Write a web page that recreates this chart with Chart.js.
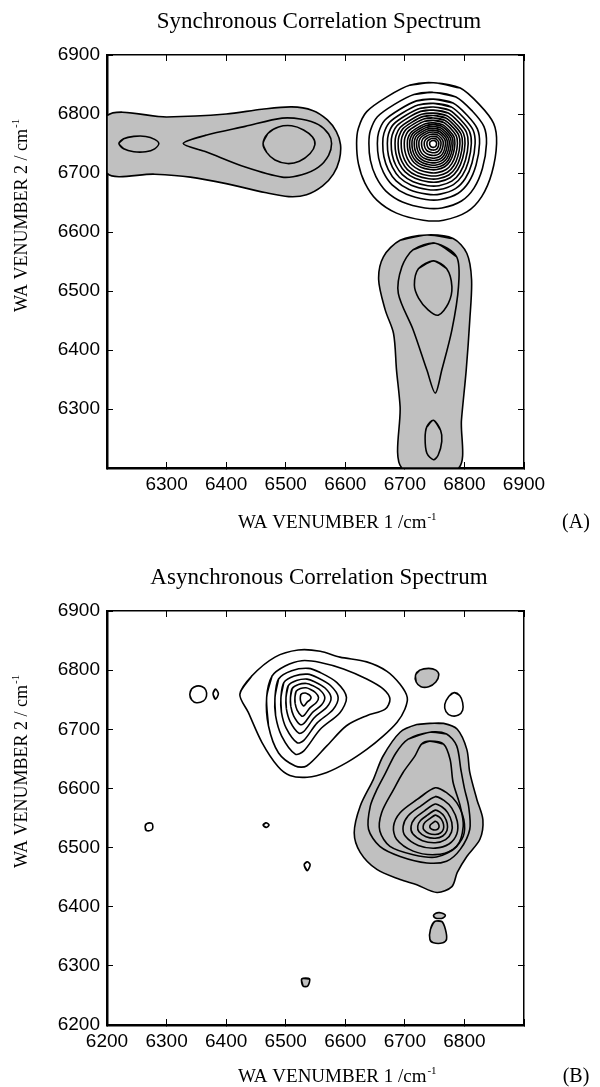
<!DOCTYPE html>
<html>
<head>
<meta charset="utf-8">
<script src="https://cdn.jsdelivr.net/npm/chart.js@4"></script>
<style>
  body { margin: 0; background: #fff; }
  .panel { position: absolute; left: 0; width: 600px; }
  #boxA { top: 0; height: 556px; }
  #boxB { top: 556px; height: 531px; }
</style>
</head>
<body>
<div class="panel" id="boxA"><canvas id="syncChart"></canvas></div>
<div class="panel" id="boxB"><canvas id="asyncChart"></canvas></div>
<script>
// tick labels
const syncXTicks = [6300, 6400, 6500, 6600, 6700, 6800, 6900];
const syncYTicks = [6300, 6400, 6500, 6600, 6700, 6800, 6900];
const asyncXTicks = [6200, 6300, 6400, 6500, 6600, 6700, 6800];
const asyncYTicks = [6200, 6300, 6400, 6500, 6600, 6700, 6800, 6900];

// synchronous: gray (negative) contours, [wavenumber1, wavenumber2]
const syncBandOuter = [[6200,6797],[6300,6795],[6400,6800],[6460,6808],[6510,6812],[6545,6806],[6570,6790],[6585,6770],[6592,6748],[6590,6722],[6580,6698],[6562,6678],[6535,6663],[6505,6660],[6465,6667],[6400,6682],[6340,6693],[6280,6698],[6200,6700],[6200,6797]];
const syncBandMid = [[6328,6750],[6366,6764],[6432,6779],[6494,6793],[6527,6791],[6555,6782],[6572,6766],[6577,6750],[6572,6730],[6555,6710],[6527,6697],[6494,6693],[6432,6710],[6366,6736],[6328,6750]];
const syncBandCore = [[6462,6750],[6470,6767],[6488,6778],[6510,6780],[6530,6773],[6545,6761],[6549,6748],[6541,6733],[6523,6720],[6503,6716],[6482,6722],[6468,6735],[6462,6750]];
const syncBandSpot = [[6220,6750],[6228,6758],[6245,6762],[6265,6762],[6280,6757],[6287,6750],[6280,6741],[6265,6736],[6245,6736],[6228,6741],[6220,6750]];
const syncColOuter = [[6737,6595],[6781,6589],[6804,6564],[6812,6519],[6809,6451],[6803,6366],[6795,6281],[6790,6200],[6695,6200],[6692,6304],[6686,6366],[6681,6428],[6667,6468],[6656,6519],[6664,6558],[6692,6586],[6737,6595]];
const syncColMid = [[6751,6581],[6787,6558],[6790,6507],[6779,6434],[6762,6366],[6751,6327],[6737,6366],[6714,6434],[6689,6496],[6695,6541],[6714,6570],[6751,6581]];
const syncColCore = [[6748,6551],[6770,6538],[6779,6507],[6773,6479],[6756,6459],[6739,6468],[6723,6488],[6716,6510],[6723,6538],[6748,6551]];
const syncColSpot = [[6748,6281],[6760,6264],[6762,6245],[6756,6222],[6748,6214],[6737,6225],[6734,6250],[6737,6270],[6748,6281]];

// synchronous: auto peak (white), outer contour + relative size of each ring toward the peak
const syncPeak = [6748, 6750];
const syncPeakOuter = [[6748,6853],[6709,6849],[6670,6829],[6636,6804],[6622,6776],[6619,6750],[6622,6716],[6633,6683],[6653,6654],[6686,6632],[6731,6620],[6765,6620],[6804,6634],[6829,6660],[6846,6700],[6854,6750],[6849,6784],[6826,6815],[6793,6844],[6748,6853]];
const syncPeakRings = [1, 0.84, 0.73, 0.66, 0.6, 0.55, 0.5, 0.46, 0.42, 0.38, 0.34, 0.31, 0.28, 0.25, 0.22, 0.19, 0.155, 0.12, 0.085, 0.05];

// asynchronous: white (positive) cross peak
const asyncPosOuter = [[6423,6759],[6443,6790],[6482,6822],[6521,6834],[6558,6832],[6591,6822],[6636,6814],[6670,6798],[6692,6776],[6704,6754],[6700,6734],[6687,6712],[6663,6688],[6636,6666],[6603,6644],[6569,6627],[6536,6619],[6507,6622],[6487,6637],[6460,6678],[6437,6729],[6423,6759]];
const asyncPosMid = [[6468,6754],[6477,6790],[6499,6807],[6527,6816],[6558,6813],[6597,6802],[6636,6785],[6664,6768],[6675,6751],[6667,6734],[6636,6723],[6602,6706],[6569,6672],[6535,6638],[6516,6638],[6488,6660],[6471,6706],[6468,6754]];
const asyncPosPeak = [6532, 6754];
const asyncPosInner = [[6482,6754],[6488,6785],[6510,6799],[6538,6803],[6558,6796],[6586,6779],[6602,6754],[6591,6728],[6558,6700],[6530,6663],[6516,6658],[6493,6689],[6483,6723],[6482,6754]];
const asyncPosRings = [1, 0.8, 0.63, 0.48, 0.33, 0.15];

// asynchronous: gray (negative) cross peak
const asyncNegOuter = [[6742,6710],[6765,6710],[6788,6700],[6804,6666],[6809,6627],[6821,6581],[6831,6547],[6826,6514],[6804,6485],[6788,6458],[6779,6434],[6754,6424],[6720,6437],[6692,6446],[6653,6463],[6625,6492],[6615,6525],[6625,6570],[6647,6615],[6663,6654],[6692,6695],[6720,6708],[6742,6710]];
const asyncNegMid = [[6742,6695],[6770,6692],[6787,6672],[6794,6632],[6800,6600],[6807,6570],[6809,6531],[6793,6497],[6770,6477],[6737,6474],[6692,6485],[6658,6502],[6639,6531],[6642,6570],[6654,6600],[6667,6625],[6685,6660],[6705,6683],[6742,6695]];
const asyncNegLobe = [[6742,6680],[6765,6675],[6776,6649],[6781,6610],[6793,6570],[6798,6536],[6787,6502],[6753,6484],[6714,6488],[6675,6502],[6658,6528],[6661,6559],[6681,6598],[6697,6627],[6717,6655],[6728,6675],[6742,6680]];
const asyncNegPeak = [6751, 6536];
const asyncNegInner = [[6751,6601],[6720,6581],[6692,6559],[6681,6536],[6686,6514],[6714,6494],[6751,6488],[6781,6497],[6798,6519],[6799,6547],[6787,6576],[6770,6593],[6751,6601]];
const asyncNegRings = [1, 0.77, 0.58, 0.42, 0.29, 0.13];

// asynchronous: small islands
const asyncGraySpots = [
  [[6718,6792],[6725,6800],[6740,6803],[6752,6800],[6757,6792],[6752,6780],[6740,6772],[6727,6772],[6719,6780],[6718,6792]],
  [[6748,6385],[6752,6389],[6758,6390],[6765,6388],[6768,6385],[6764,6381],[6758,6380],[6751,6381],[6748,6385]],
  [[6750,6375],[6762,6375],[6768,6362],[6770,6345],[6764,6339],[6748,6339],[6742,6345],[6743,6362],[6750,6375]],
  [[6527,6278],[6540,6278],[6537,6266],[6529,6266],[6527,6278]]
];
const asyncWhiteSpots = [
  [[6339,6759],[6342,6768],[6350,6773],[6360,6772],[6366,6766],[6367,6756],[6362,6748],[6350,6745],[6342,6750],[6339,6759]],
  [[6378,6760],[6382,6768],[6387,6760],[6382,6751],[6378,6760]],
  [[6783,6762],[6792,6757],[6797,6745],[6797,6732],[6790,6724],[6778,6723],[6769,6730],[6767,6742],[6774,6756],[6783,6762]],
  [[6264,6535],[6266,6540],[6275,6541],[6277,6535],[6275,6530],[6266,6529],[6264,6535]],
  [[6462,6538],[6467,6542],[6472,6538],[6467,6534],[6462,6538]],
  [[6531,6471],[6536,6476],[6541,6471],[6536,6461],[6531,6471]]
];

const GRAY = '#c0c0c0';
const SERIF = '"Liberation Serif", "Times New Roman", serif';

function contour(points, filled) {
  // closed loop: repeat a neighbour at each end so the curve has no kink where it closes
  let pts = points;
  const n = points.length;
  if (n > 3 && points[0][0] === points[n - 1][0] && points[0][1] === points[n - 1][1]) {
    pts = [points[n - 2]].concat(points, [points[1]]);
  }
  return {
    data: pts.map(p => ({ x: p[0], y: p[1] })),
    showLine: true,
    pointRadius: 0,
    pointHoverRadius: 0,
    borderColor: '#000',
    borderWidth: 1.6,
    backgroundColor: filled ? GRAY : 'rgba(0,0,0,0)',
    fill: filled ? 'shape' : false,
    tension: 0.3,
    order: filled ? 2 : 1
  };
}

// rings between an outer contour and its peak
function rings(shape, peak, sizes) {
  return sizes.map(s => contour(shape.map(p => [peak[0] + (p[0] - peak[0]) * s, peak[1] + (p[1] - peak[1]) * s]), false));
}

function makeScales(xLabels, yLabels, xHeight) {
  const tickFont = { family: 'Liberation Sans, Arial, sans-serif', size: 19 };
  const grid = { drawOnChartArea: false, drawTicks: true, tickLength: -6, color: '#000', lineWidth: 1 };
  return {
    x: {
      type: 'linear', position: 'bottom', min: 6200, max: 6900, z: 1,
      ticks: { stepSize: 100, autoSkip: false, maxRotation: 0, padding: 11, color: '#000', font: tickFont,
        callback: v => xLabels.includes(v) ? String(v) : '' },
      grid: grid,
      border: { color: '#000', width: 2.5 },
      afterFit: s => { s.height = xHeight; }
    },
    y: {
      type: 'linear', position: 'left', min: 6200, max: 6900, z: 1,
      ticks: { stepSize: 100, autoSkip: false, padding: 13, color: '#000', font: tickFont,
        callback: v => yLabels.includes(v) ? String(v) : '' },
      grid: grid,
      border: { color: '#000', width: 2.5 },
      afterFit: s => { s.width = 107; }
    },
    x2: {
      type: 'linear', position: 'top', min: 6200, max: 6900, z: 1,
      ticks: { stepSize: 100, display: false },
      grid: grid,
      border: { color: '#000', width: 1.5 },
      afterFit: s => { s.height = 0; }
    },
    y2: {
      type: 'linear', position: 'right', min: 6200, max: 6900, z: 1,
      ticks: { stepSize: 100, display: false },
      grid: grid,
      border: { color: '#000', width: 1.5 },
      afterFit: s => { s.width = 0; }
    }
  };
}

// text "base" followed by a small raised "sup", starting at x
function drawSup(ctx, base, sup, x, y, size) {
  ctx.textAlign = 'left';
  ctx.textBaseline = 'middle';
  ctx.font = size + 'px ' + SERIF;
  const wb = ctx.measureText(base).width;
  ctx.fillText(base, x, y);
  ctx.font = Math.round(size * 0.6) + 'px ' + SERIF;
  ctx.fillText(sup, x + wb + 1, y - size * 0.33);
}

const panelText = {
  id: 'panelText',
  afterDraw(chart, args, opts) {
    const { ctx, chartArea } = chart;
    ctx.save();
    ctx.fillStyle = '#000';
    // main title
    ctx.font = '23px ' + SERIF;
    ctx.textAlign = 'center';
    ctx.textBaseline = 'middle';
    ctx.fillText(opts.title, 319, chartArea.top - 33);
    // x axis title and panel letter
    const yx = chartArea.bottom + opts.xTitleGap;
    drawSup(ctx, 'WA VENUMBER 1 /cm', '-1', 238, yx, 19);
    ctx.font = '20px ' + SERIF;
    ctx.textAlign = 'center';
    ctx.fillText(opts.panel, 576, yx);
    // y axis title
    ctx.translate(22, chartArea.top + 257);
    ctx.rotate(-Math.PI / 2);
    drawSup(ctx, 'WA VENUMBER 2 / cm', '-1', 0, 0, 18);
    ctx.restore();
  }
};

function makeOptions(title, panel, xLabels, yLabels, xHeight, xTitleGap) {
  return {
    responsive: true,
    maintainAspectRatio: false,
    animation: false,
    layout: { padding: { left: 0, right: 76, top: 55, bottom: 0 } },
    scales: makeScales(xLabels, yLabels, xHeight),
    plugins: {
      legend: { display: false },
      tooltip: { enabled: false },
      title: { display: false },
      panelText: { title: title, panel: panel, xTitleGap: xTitleGap }
    }
  };
}

const syncSets = [
  contour(syncBandOuter, true),
  contour(syncBandMid, false),
  contour(syncBandCore, false),
  contour(syncBandSpot, false),
  contour(syncColOuter, true),
  contour(syncColMid, false),
  contour(syncColCore, false),
  contour(syncColSpot, false)
].concat(rings(syncPeakOuter, syncPeak, syncPeakRings));

const asyncSets = [
  contour(asyncPosOuter, false),
  contour(asyncPosMid, false),
  contour(asyncNegOuter, true),
  contour(asyncNegMid, false),
  contour(asyncNegLobe, false)
].concat(rings(asyncPosInner, asyncPosPeak, asyncPosRings))
 .concat(rings(asyncNegInner, asyncNegPeak, asyncNegRings))
 .concat(asyncGraySpots.map(p => contour(p, true)))
 .concat(asyncWhiteSpots.map(p => contour(p, false)));

new Chart(document.getElementById('syncChart'), {
  type: 'scatter',
  data: { datasets: syncSets },
  options: makeOptions('Synchronous Correlation Spectrum', '(A)', syncXTicks, syncYTicks, 88, 55),
  plugins: [panelText]
});

new Chart(document.getElementById('asyncChart'), {
  type: 'scatter',
  data: { datasets: asyncSets },
  options: makeOptions('Asynchronous Correlation Spectrum', '(B)', asyncXTicks, asyncYTicks, 62, 52),
  plugins: [panelText]
});
</script>
</body>
</html>
